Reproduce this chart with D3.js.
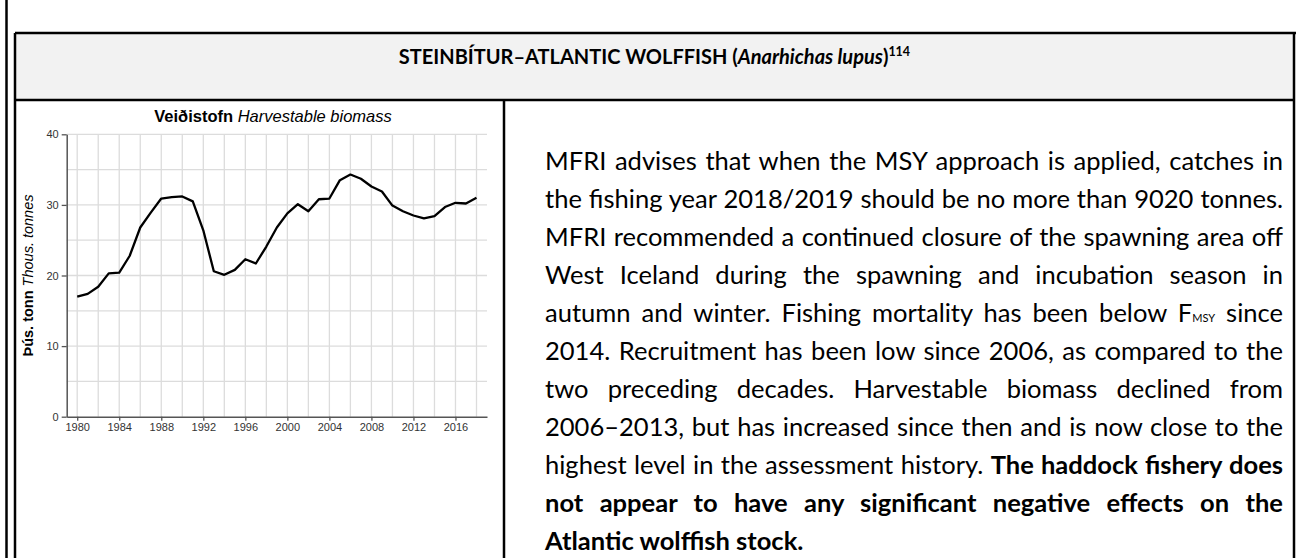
<!DOCTYPE html>
<html>
<head>
<meta charset="utf-8">
<script src="https://cdn.jsdelivr.net/npm/d3@7"></script>
<style>
  body { margin: 0; width: 1296px; height: 558px; overflow: hidden; background: #fff; }
  #page { position: relative; width: 1296px; height: 558px; }
  svg { position: absolute; left: 0; top: 0; }
  #header { position: absolute; left: 15px; width: 1279px; top: 44px; text-align: center;
    font-family: Lato, sans-serif; font-weight: bold; font-size: 20px; color: #000; }
  #header sup { font-size: 12.5px; }
  #para { position: absolute; left: 545px; width: 738px; top: 141px;
    font-family: Lato, sans-serif; font-size: 22px; line-height: 38px; color: #000; }
  #para .ln { display: block; white-space: nowrap; height: 38px; }
  #para .ln.just { text-align: justify; text-align-last: justify; }
  .msy { font-size: 11px; }
</style>
</head>
<body>
<div id="page">
  <svg id="chart" width="1296" height="558"></svg>
  <div id="header">STEINBÍTUR–ATLANTIC WOLFFISH (<i>Anarhichas lupus</i>)<sup>114</sup></div>
  <div id="para"></div>
</div>
<script>
// harvestable biomass, thousand tonnes
const years = [1980, 1981, 1982, 1983, 1984, 1985, 1986, 1987, 1988, 1989,
  1990, 1991, 1992, 1993, 1994, 1995, 1996, 1997, 1998, 1999,
  2000, 2001, 2002, 2003, 2004, 2005, 2006, 2007, 2008, 2009,
  2010, 2011, 2012, 2013, 2014, 2015, 2016, 2017, 2018];
const biomass = [17.0, 17.4, 18.4, 20.3, 20.4, 22.8, 26.8, 28.9, 30.9, 31.1,
  31.2, 30.5, 26.4, 20.6, 20.1, 20.8, 22.3, 21.7, 24.1, 26.8,
  28.8, 30.1, 29.1, 30.8, 30.9, 33.5, 34.3, 33.7, 32.6, 31.9,
  29.9, 29.1, 28.5, 28.1, 28.4, 29.7, 30.3, 30.2, 31.0];
const xTicks = [1980, 1984, 1988, 1992, 1996, 2000, 2004, 2008, 2012, 2016];
const yTicks = [0, 10, 20, 30, 40];
const xGrid = [1980, 1982, 1984, 1986, 1988, 1990, 1992, 1994, 1996, 1998, 2000,
  2002, 2004, 2006, 2008, 2010, 2012, 2014, 2016, 2018];
const yGrid = [5, 10, 15, 20, 25, 30, 35, 40];

// text lines of the right cell, [normal, bold]
const lines = [
  ["MFRI advises that when the MSY approach is applied, catches in", ""],
  ["the fishing year 2018/2019 should be no more than 9020 tonnes.", ""],
  ["MFRI recommended a continued closure of the spawning area off", ""],
  ["West Iceland during the spawning and incubation season in", ""],
  ["autumn and winter. Fishing mortality has been below F<span class='msy'>MSY</span> since", ""],
  ["2014. Recruitment has been low since 2006, as compared to the", ""],
  ["two preceding decades. Harvestable biomass declined from", ""],
  ["2006–2013, but has increased since then and is now close to the", ""],
  ["highest level in the assessment history. ", "The haddock fishery does"],
  ["", "not appear to have any significant negative effects on the"],
  ["", "Atlantic wolffish stock."]
];

let svg = d3.select("#chart");

// table frame
svg.append("rect").attr("x", 15).attr("y", 33).attr("width", 1279).attr("height", 67).attr("fill", "#f2f2f2");
let frame = [
  [6.5, 0, 6.5, 558],
  [15, 33, 1296, 33],
  [15, 33, 15, 558],
  [1294, 33, 1294, 558],
  [15, 100, 1294, 100],
  [504, 100, 504, 558]
];
svg.append("g").selectAll("line").data(frame).enter().append("line")
  .attr("x1", (d) => d[0]).attr("y1", (d) => d[1])
  .attr("x2", (d) => d[2]).attr("y2", (d) => d[3])
  .attr("stroke", "#000").attr("stroke-width", 2.5);

// chart
let x = d3.scaleLinear().domain([1979, 2019]).range([66.7, 487]);
let y = d3.scaleLinear().domain([0, 40]).range([416.7, 134.3]);
let g = svg.append("g");

g.append("g").selectAll("line").data(xGrid).enter().append("line")
  .attr("x1", (d) => x(d)).attr("x2", (d) => x(d))
  .attr("y1", y(0)).attr("y2", y(40))
  .attr("stroke", "#dcdcdc").attr("stroke-width", 1.3);
g.append("g").selectAll("line").data(yGrid).enter().append("line")
  .attr("x1", x(1979)).attr("x2", x(2019))
  .attr("y1", (d) => y(d)).attr("y2", (d) => y(d))
  .attr("stroke", "#dcdcdc").attr("stroke-width", 1.3);

let xAxis = g.append("g")
  .attr("transform", "translate(0," + y(0) + ")")
  .call(d3.axisBottom(x).tickValues(xTicks).tickFormat(d3.format("d")).tickSize(4).tickSizeOuter(0).tickPadding(3));
let yAxis = g.append("g")
  .attr("transform", "translate(" + x(1979) + ",0)")
  .call(d3.axisLeft(y).tickValues(yTicks).tickSize(5).tickSizeOuter(0).tickPadding(3));
[xAxis, yAxis].forEach((a) => {
  a.select(".domain").attr("stroke", "#555").attr("stroke-width", 1.5);
  a.selectAll(".tick line").attr("stroke", "#555").attr("stroke-width", 1.3);
  a.selectAll(".tick text").attr("fill", "#333")
    .style("font-family", "'Liberation Sans', Arial, sans-serif").style("font-size", "11px");
});

g.append("path")
  .datum(years.map((v, i) => [v, biomass[i]]))
  .attr("fill", "none").attr("stroke", "#000").attr("stroke-width", 2.3)
  .attr("stroke-linejoin", "round")
  .attr("d", d3.line().x((d) => x(d[0])).y((d) => y(d[1])));

let title = g.append("text")
  .attr("x", 273).attr("y", 122)
  .attr("text-anchor", "middle")
  .style("font-family", "'Liberation Sans', Arial, sans-serif").style("font-size", "16.5px");
title.append("tspan").attr("font-weight", "bold").text("Veiðistofn");
title.append("tspan").attr("font-style", "italic").text(" Harvestable biomass");

let ylab = g.append("text")
  .attr("transform", "translate(33," + (y(0) + y(40)) / 2 + ") rotate(-90)")
  .attr("text-anchor", "middle")
  .style("font-family", "'Liberation Sans', Arial, sans-serif").style("font-size", "14.5px");
ylab.append("tspan").attr("font-weight", "bold").text("Þús. tonn");
ylab.append("tspan").attr("font-style", "italic").text(" Thous. tonnes");

// paragraph, font scaled so that the widest line just fits, then justified
let para = d3.select("#para");
lines.forEach((l) => {
  let span = para.append("div").attr("class", "ln").append("span");
  span.append("span").html(l[0]);
  if (l[1]) span.append("b").text(l[1]);
});
let widest = d3.max(para.selectAll(".ln > span").nodes(), (n) => n.getBoundingClientRect().width);
para.style("font-size", (22 * 734 / widest) + "px");
para.selectAll(".ln").filter((d, i) => i < lines.length - 1).classed("just", true);
</script>
</body>
</html>
